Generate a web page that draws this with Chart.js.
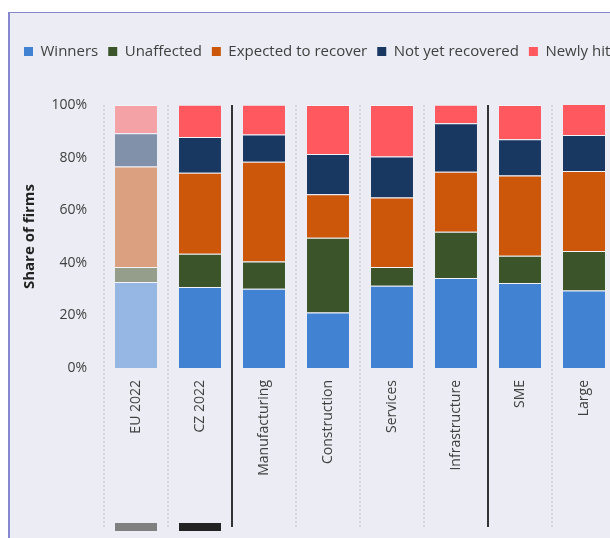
<!DOCTYPE html>
<html>
<head>
<meta charset="utf-8">
<script src="https://cdn.jsdelivr.net/npm/chart.js@4.4.1/dist/chart.umd.min.js"></script>
<style>
  html, body { margin: 0; padding: 0; background: #fff; overflow: hidden; }
  #frame {
    position: absolute; left: 8px; top: 12px;
    width: 640px; height: 540px;
    background: #ECECF4;
    border-left: 2px solid #8787CF;
    border-top: 1px solid #8787CF;
  }
  #box { width: 630px; height: 525px; }
</style>
</head>
<body>
<div id="frame"><div id="box"><canvas id="shock"></canvas></div></div>
<script>
const categories = ['EU 2022', 'CZ 2022', 'Manufacturing', 'Construction', 'Services', 'Infrastructure', 'SME', 'Large'];
const winners    = [32.7, 30.8, 30.1, 21.1, 31.3, 34.2, 32.3, 29.5];
const unaffected = [5.7, 12.6, 10.4, 28.4, 7.1, 17.6, 10.4, 15.0];
const expected   = [38.2, 30.8, 37.9, 16.6, 26.4, 22.8, 30.5, 30.4];
const notYet     = [12.7, 13.6, 10.4, 15.3, 15.6, 18.5, 13.8, 13.7];
const newlyHit   = [10.7, 12.3, 11.3, 18.6, 19.6, 7.0, 13.0, 13.4];
const yTicks     = [0, 20, 40, 60, 80, 100];

// group separators sit before these category indexes
const separators = [2, 6];
// small bars under the axis for the two reference columns
const markers = ['#808080', '#222222', null, null, null, null, null, null];

Chart.defaults.font.family = '"Open Sans", sans-serif';
Chart.defaults.color = '#404040';

// EU column is drawn in a pale version of each colour
function colours(main, pale) {
  return categories.map((c, i) => i === 0 ? pale : main);
}

const series = [
  { label: 'Winners', data: winners, main: '#4182D3', pale: '#96B7E3' },
  { label: 'Unaffected', data: unaffected, main: '#3C5429', pale: '#959E8B' },
  { label: 'Expected to recover', data: expected, main: '#CC560A', pale: '#DBA07F' },
  { label: 'Not yet recovered', data: notYet, main: '#183761', pale: '#8091A9' },
  { label: 'Newly hit', data: newlyHit, main: '#FF585F', pale: '#F5A2A7' }
];

const gridLines = {
  id: 'gridLines',
  beforeDatasetsDraw(chart) {
    const { ctx, chartArea, scales: { x } } = chart;
    const bottom = chartArea.bottom + 159;
    ctx.save();
    for (let i = 0; i <= categories.length; i++) {
      const px = Math.round(x.getPixelForValue(i - 0.5));
      ctx.beginPath();
      if (separators.includes(i)) {
        ctx.setLineDash([]);
        ctx.strokeStyle = '#333333';
        ctx.lineWidth = 2;
      } else {
        ctx.setLineDash([2, 2]);
        ctx.strokeStyle = '#D6D6E0';
        ctx.lineWidth = 2;
      }
      ctx.moveTo(px, chartArea.top);
      ctx.lineTo(px, bottom);
      ctx.stroke();
    }
    ctx.restore();
  },
  afterDatasetsDraw(chart) {
    const { ctx, chartArea } = chart;
    const bars = chart.getDatasetMeta(0).data;
    ctx.save();
    markers.forEach((col, i) => {
      if (!col) return;
      const b = bars[i];
      ctx.fillStyle = col;
      ctx.fillRect(b.x - b.width / 2, chartArea.bottom + 155, b.width, 8);
    });
    ctx.restore();
  }
};

// keep the legend on one row (it runs off the right edge) and leave room under it
const legendGap = {
  id: 'legendGap',
  beforeInit(chart) {
    const fit = chart.legend.fit;
    chart.legend.fit = function () {
      this.maxWidth = 720;
      fit.call(this);
      this.height += 36;
    };
  },
  afterLayout(chart) {
    chart.legend.right = chart.legend.left + 720;
    chart.legend.width = 720;
  }
};

new Chart(document.getElementById('shock'), {
  type: 'bar',
  data: {
    labels: categories,
    datasets: series.map(s => ({
      label: s.label,
      data: s.data,
      backgroundColor: colours(s.main, s.pale),
      borderColor: 'rgba(245,245,250,0.85)',
      borderWidth: { top: 1, left: 0, right: 0, bottom: 0 },
      borderSkipped: false,
      barPercentage: 0.656,
      categoryPercentage: 1
    }))
  },
  plugins: [gridLines, legendGap],
  options: {
    responsive: true,
    maintainAspectRatio: false,
    animation: false,
    layout: { padding: { top: 21, right: 24, bottom: 0, left: 4 } },
    scales: {
      x: {
        stacked: true,
        grid: { display: false, drawTicks: false },
        border: { display: false },
        ticks: { minRotation: 90, maxRotation: 90, padding: 12, font: { size: 14 } },
        afterFit(axis) { axis.height = 170; }
      },
      y: {
        stacked: true,
        min: 0,
        max: 100,
        grid: { display: false, drawTicks: false },
        border: { display: false },
        afterBuildTicks(axis) { axis.ticks = yTicks.map(v => ({ value: v })); },
        ticks: { padding: 17, font: { size: 14 }, callback: v => v + '%' },
        title: {
          display: true,
          text: 'Share of firms',
          font: { size: 15, weight: 'bold' },
          color: '#222222',
          padding: { top: 7, bottom: 0 }
        },
        afterFit(axis) { axis.width = 90; }
      }
    },
    plugins: {
      legend: {
        position: 'top',
        align: 'start',
        labels: {
          boxWidth: 9,
          boxHeight: 9,
          padding: 10,
          font: { size: 15 },
          color: '#404040',
          generateLabels(chart) {
            const items = Chart.defaults.plugins.legend.labels.generateLabels(chart);
            items.forEach((it, i) => {
              it.fillStyle = series[i].main;
              it.strokeStyle = series[i].main;
              it.lineWidth = 0;
            });
            return items;
          }
        }
      },
      tooltip: { enabled: false }
    }
  }
});
</script>
</body>
</html>
